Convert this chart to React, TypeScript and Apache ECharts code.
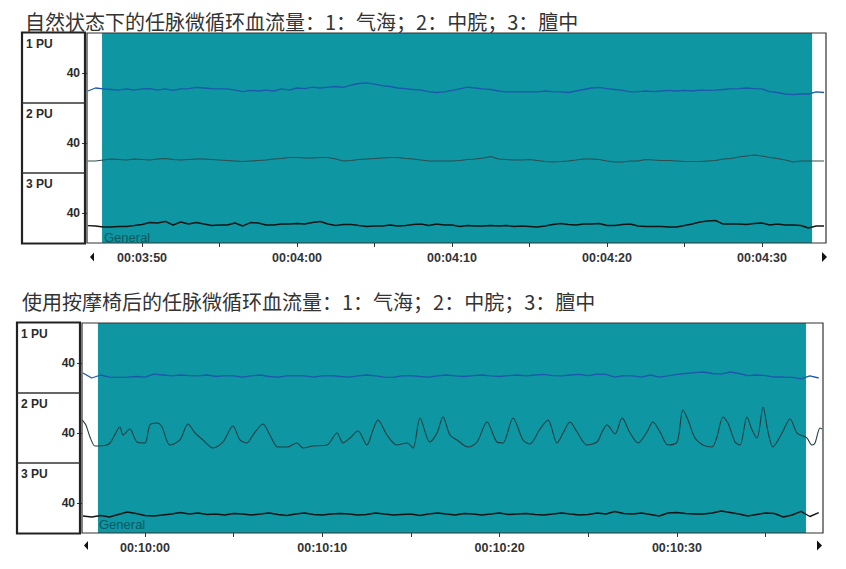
import React, { useEffect, useRef } from "react";
import * as echarts from "echarts";

// ---------- texts ----------
const TITLE_TOP = "自然状态下的任脉微循环血流量：1：气海；2：中脘；3：膻中";
const TITLE_BOTTOM = "使用按摩椅后的任脉微循环血流量：1：气海；2：中脘；3：膻中";
const CHANNEL_LABELS = ["1 PU", "2 PU", "3 PU"];
const SECTION_LABEL = "General";
const Y_TICKS = [40];
const Y_MIN = 0;
const Y_MAX = 93.33;

// ---------- top recording (natural state), time in seconds ----------
const TOP_RANGE = [226.45, 274.13];
const TOP_MARKED = [227.42, 273.23];
const TOP_MAJOR = [230, 240, 250, 260, 270];
const TOP_MINOR = [230, 235, 240, 245, 250, 255, 260, 265, 270];
const TOP_START = 226.5;
const TOP_STEP = 0.5;
const TOP_CH1 = [
  16.0, 20.0, 18.7, 18.0, 17.3, 18.7, 17.3, 18.7, 19.3, 17.3,
  18.7, 16.7, 18.7, 19.3, 20.7, 20.0, 19.3, 18.7, 18.7, 17.3,
  15.3, 16.7, 16.0, 17.3, 16.0, 18.7, 17.3, 20.0, 19.3, 21.3,
  20.0, 21.3, 22.0, 20.7, 24.0, 26.0, 26.7, 25.3, 23.3, 22.0,
  20.0, 19.3, 18.0, 17.3, 15.3, 14.0, 14.7, 16.7, 18.7, 21.3,
  20.0, 18.7, 18.0, 16.0, 14.7, 15.3, 14.7, 15.3, 14.7, 16.0,
  15.3, 14.7, 14.0, 16.0, 18.0, 20.0, 20.7, 19.3, 18.0, 16.7,
  14.7, 15.3, 16.0, 15.3, 16.0, 16.7, 16.0, 16.7, 16.0, 17.3,
  16.7, 17.3, 18.0, 18.7, 19.3, 20.0, 19.3, 18.7, 15.3, 14.0,
  12.0, 11.3, 12.0, 12.0, 14.7, 14.0,
];
const TOP_CH2 = [
  16.0, 16.0, 17.3, 18.7, 18.0, 17.3, 18.7, 18.0, 17.3, 18.7,
  19.3, 18.0, 17.3, 18.0, 18.7, 18.7, 18.0, 17.3, 16.7, 16.0,
  15.3, 16.0, 16.7, 17.3, 18.7, 19.3, 20.7, 20.7, 20.0, 20.0,
  20.7, 20.7, 18.7, 16.0, 16.7, 18.0, 18.7, 19.3, 20.0, 20.7,
  20.7, 19.3, 18.7, 17.3, 16.0, 16.0, 16.0, 16.0, 16.7, 18.0,
  18.7, 20.0, 22.0, 18.7, 18.0, 17.3, 17.3, 18.0, 16.7, 15.3,
  14.7, 15.3, 16.0, 17.3, 18.7, 18.7, 18.0, 16.0, 14.7, 14.7,
  16.0, 16.0, 18.0, 17.3, 16.7, 16.7, 16.0, 15.3, 15.3, 15.3,
  16.0, 16.7, 18.7, 19.3, 21.3, 22.7, 24.0, 22.7, 20.7, 19.3,
  17.3, 14.7, 16.0, 16.0, 16.0, 16.0,
];
const TOP_CH3 = [
  23.1, 22.7, 21.3, 21.3, 22.0, 22.0, 23.3, 24.7, 27.3, 26.7,
  28.7, 24.0, 28.0, 25.3, 27.3, 25.3, 23.3, 24.0, 24.0, 26.7,
  22.7, 27.3, 26.7, 24.0, 24.0, 25.3, 25.3, 26.0, 25.3, 27.3,
  28.7, 25.3, 23.3, 24.7, 24.7, 23.3, 22.0, 22.7, 22.7, 24.0,
  22.7, 23.3, 24.7, 25.3, 23.3, 25.3, 24.0, 24.0, 22.0, 23.3,
  22.7, 22.7, 23.3, 22.7, 23.3, 22.0, 22.7, 22.0, 21.3, 22.7,
  24.7, 26.0, 24.7, 24.0, 25.3, 25.3, 26.0, 23.3, 23.3, 24.7,
  25.3, 22.7, 22.0, 22.0, 22.0, 21.3, 21.3, 23.3, 25.3, 28.0,
  29.3, 30.0, 25.3, 25.3, 25.3, 24.7, 26.0, 26.7, 24.0, 25.3,
  24.0, 24.0, 23.3, 20.0, 22.7, 22.7,
];

// ---------- bottom recording (after massage chair) ----------
const BOT_RANGE = [596.45, 638.24];
const BOT_MARKED = [597.35, 637.28];
const BOT_MAJOR = [600, 610, 620, 630];
const BOT_MINOR = [600, 605, 610, 615, 620, 625, 630, 635];
const BOT_START = 596.5;
const BOT_STEP = 0.5;
const BOT_CH1 = [
  26.7, 20.0, 24.0, 21.3, 20.7, 21.3, 22.0, 21.3, 25.3, 24.0,
  22.7, 24.0, 23.3, 22.7, 24.0, 22.0, 23.3, 22.7, 21.3, 22.7,
  24.0, 22.0, 21.3, 22.7, 23.3, 22.7, 21.3, 22.7, 23.3, 22.0,
  21.3, 22.7, 24.0, 22.7, 21.3, 20.7, 22.7, 23.3, 22.0, 21.3,
  22.7, 24.0, 22.7, 22.0, 23.3, 24.0, 22.7, 22.0, 23.3, 24.0,
  22.7, 24.0, 24.7, 23.3, 22.7, 24.0, 24.7, 23.3, 25.3, 24.7,
  21.3, 23.3, 22.7, 21.3, 24.0, 21.3, 22.7, 24.7, 26.0, 27.3,
  28.0, 26.0, 25.3, 28.0, 26.0, 23.3, 24.0, 23.3, 21.3, 21.3,
  20.7, 18.7, 22.7, 20.0,
];
const BOT_CH2_T = [
  596.47, 596.67, 596.90, 597.18, 597.35, 597.74, 598.03, 598.20, 598.59, 598.76,
  599.15, 599.55, 600.00, 600.28, 600.68, 600.96, 601.41, 601.97, 602.43, 602.82,
  603.27, 603.84, 604.40, 604.96, 605.36, 605.75, 606.09, 606.66, 607.05, 607.50,
  608.01, 608.57, 608.91, 609.48, 610.27, 610.83, 611.17, 611.56, 612.01, 612.52,
  612.86, 613.14, 613.65, 614.21, 614.78, 615.12, 615.51, 616.07, 616.47, 616.81,
  617.20, 617.60, 618.22, 618.73, 619.29, 619.85, 620.19, 620.76, 621.32, 621.71,
  622.28, 622.73, 623.24, 623.58, 623.97, 624.37, 624.93, 625.49, 625.78, 626.06,
  626.51, 626.91, 627.36, 627.81, 628.31, 628.65, 629.05, 629.50, 630.01, 630.34,
  630.63, 631.02, 631.47, 631.98, 632.26, 632.60, 632.88, 633.28, 633.56, 633.95,
  634.24, 634.52, 634.86, 635.14, 635.42, 635.93, 636.38, 636.77, 637.11, 637.34,
  637.62, 637.79, 638.07, 638.18,
];
const BOT_CH2_V = [
  57.3, 50.7, 34.7, 22.7, 22.7, 23.3, 26.7, 33.3, 48.0, 37.3,
  45.3, 28.0, 26.7, 50.7, 53.3, 48.0, 24.0, 30.7, 52.0, 40.0,
  30.7, 20.0, 28.0, 49.3, 30.7, 26.7, 37.3, 52.0, 37.3, 21.3,
  21.3, 26.7, 20.0, 22.7, 24.0, 40.0, 26.7, 33.3, 42.7, 24.0,
  44.0, 57.3, 37.3, 24.0, 26.7, 20.0, 60.0, 28.0, 40.0, 61.3,
  37.3, 30.7, 21.3, 28.0, 54.7, 28.0, 26.7, 60.0, 30.7, 25.3,
  45.3, 57.3, 26.7, 40.0, 54.7, 41.3, 24.0, 28.0, 41.3, 50.7,
  38.7, 60.0, 40.0, 26.7, 41.3, 54.7, 41.3, 24.0, 28.0, 70.7,
  57.3, 33.3, 24.0, 21.3, 34.7, 61.3, 53.3, 28.0, 24.0, 61.3,
  44.0, 33.3, 74.7, 41.3, 21.3, 40.0, 58.7, 40.0, 36.0, 33.3,
  24.0, 26.7, 46.7, 45.3,
];
const BOT_CH3 = [
  22.7, 21.3, 23.3, 21.3, 24.7, 28.0, 26.0, 23.3, 22.7, 24.0,
  25.3, 27.3, 25.3, 26.7, 24.7, 25.3, 24.0, 26.0, 25.3, 24.0,
  25.3, 26.7, 24.7, 23.3, 25.3, 26.7, 24.7, 24.0, 25.3, 26.0,
  25.3, 24.0, 24.7, 26.7, 25.3, 24.0, 24.7, 25.3, 23.3, 25.3,
  26.7, 25.3, 24.0, 26.0, 25.3, 24.0, 25.3, 26.7, 24.7, 25.3,
  26.0, 24.7, 24.0, 25.3, 26.7, 25.3, 24.0, 24.7, 26.7, 25.3,
  28.7, 26.0, 25.3, 26.7, 24.7, 22.7, 26.7, 27.3, 26.0, 25.3,
  25.3, 26.7, 29.3, 27.3, 25.3, 22.7, 24.7, 26.7, 26.0, 21.3,
  24.0, 28.7, 22.0, 27.3,
];

// ---------- styling ----------
const TEAL = "#0e96a2";
const LATIN = "'Liberation Sans', Arial, sans-serif";
const CJK = "'Noto Sans CJK SC', sans-serif";

const sampled = (start: number, step: number, vals: number[]) =>
  vals.map((v, i) => [start + i * step, v]);
const paired = (ts: number[], vs: number[]) => ts.map((t, i) => [t, vs[i]]);

const fmtTime = (v: number) => {
  const s = Math.round(v);
  const h = Math.floor(s / 3600);
  const m = Math.floor((s % 3600) / 60);
  const ss = s % 60;
  return [h, m, ss].map((n) => String(n).padStart(2, "0")).join(":");
};

export default function App() {
  const ref = useRef<HTMLDivElement>(null);

  useEffect(() => {
    if (!ref.current) return;
    const chart = echarts.init(ref.current, undefined, { renderer: "svg" });

    const panels = [
      {
        title: TITLE_TOP, titleX: 25, titleY: 21,
        left: 87, right: 826, top: 33, rowH: 70, panelX: 22,
        range: TOP_RANGE, marked: TOP_MARKED, major: TOP_MAJOR, minor: TOP_MINOR,
        series: [
          { data: sampled(TOP_START, TOP_STEP, TOP_CH1), inC: "#1d58ac", outC: "#1c2a6e", w: 1.3, smooth: false },
          { data: sampled(TOP_START, TOP_STEP, TOP_CH2), inC: "#2f4b4e", outC: "#b03a2e", w: 1.1, smooth: false },
          { data: sampled(TOP_START, TOP_STEP, TOP_CH3), inC: "#151515", outC: "#151515", w: 1.4, smooth: false },
        ],
        arrowY: 257, arrowL: 90, arrowR: 822, generalX: 104, generalY: 237,
      },
      {
        title: TITLE_BOTTOM, titleX: 22, titleY: 301,
        left: 82, right: 823, top: 323, rowH: 70, panelX: 17,
        range: BOT_RANGE, marked: BOT_MARKED, major: BOT_MAJOR, minor: BOT_MINOR,
        series: [
          { data: sampled(BOT_START, BOT_STEP, BOT_CH1), inC: "#1d58ac", outC: "#1c2a6e", w: 1.3, smooth: false },
          { data: paired(BOT_CH2_T, BOT_CH2_V), inC: "#233f42", outC: "#a0341f", w: 1.1, smooth: 0.3 },
          { data: sampled(BOT_START, BOT_STEP, BOT_CH3), inC: "#151515", outC: "#151515", w: 1.4, smooth: false },
        ],
        arrowY: 545.5, arrowL: 84, arrowR: 817, generalX: 99, generalY: 524,
      },
    ];

    const grid: any[] = [];
    const xAxis: any[] = [];
    const yAxis: any[] = [];
    const series: any[] = [];
    const visualMap: any[] = [];
    const graphic: any[] = [];

    panels.forEach((p) => {
      p.series.forEach((s, r) => {
        const gi = grid.length;
        grid.push({
          left: p.left,
          width: p.right - p.left,
          top: p.top + r * p.rowH,
          height: p.rowH,
          containLabel: false,
        });
        const isBottom = r === 2;
        xAxis.push({
          type: "value",
          gridIndex: gi,
          min: p.range[0],
          max: p.range[1],
          show: isBottom,
          axisLine: { show: false },
          splitLine: { show: false },
          axisTick: {
            show: isBottom,
            customValues: p.minor,
            length: 4,
            lineStyle: { color: "#333", width: 1 },
          },
          axisLabel: {
            show: isBottom,
            customValues: p.major,
            formatter: fmtTime,
            fontFamily: LATIN,
            fontSize: 12.5,
            fontWeight: "bold",
            color: "#333",
            margin: 8,
          },
        });
        yAxis.push({
          type: "value",
          gridIndex: gi,
          min: Y_MIN,
          max: Y_MAX,
          axisLine: { show: false },
          splitLine: { show: false },
          axisTick: {
            show: true,
            customValues: Y_TICKS,
            length: 5,
            lineStyle: { color: "#333", width: 1 },
          },
          axisLabel: {
            customValues: Y_TICKS,
            fontFamily: LATIN,
            fontSize: 12,
            fontWeight: "bold",
            color: "#2a2a2a",
            margin: 7,
          },
        });
        const si = series.length;
        series.push({
          type: "line",
          xAxisIndex: gi,
          yAxisIndex: gi,
          data: s.data,
          showSymbol: false,
          smooth: s.smooth,
          silent: true,
          z: 3,
          lineStyle: { width: s.w, color: s.inC },
          markArea: {
            silent: true,
            label: { show: false },
            itemStyle: { color: TEAL, opacity: 1, borderWidth: 0 },
            data: [[{ xAxis: p.marked[0] }, { xAxis: p.marked[1] }]],
          },
        });
        if (s.inC !== s.outC) {
          visualMap.push({
            type: "piecewise",
            show: false,
            dimension: 0,
            seriesIndex: si,
            pieces: [
              { lt: p.marked[0], color: s.outC },
              { gte: p.marked[0], lte: p.marked[1], color: s.inC },
              { gt: p.marked[1], color: s.outC },
            ],
          });
        }
      });

      const bottom = p.top + 3 * p.rowH;
      // title
      graphic.push({
        type: "text",
        x: p.titleX,
        y: p.titleY,
        style: {
          text: p.title,
          fontFamily: CJK,
          fontSize: 20,
          fill: "#333",
          verticalAlign: "middle",
        },
      });
      // channel panel
      graphic.push({
        type: "rect",
        shape: { x: p.panelX, y: p.top - 0.5, width: p.left - p.panelX - 2, height: bottom - p.top + 1 },
        style: { fill: "none", stroke: "#222", lineWidth: 2.2 },
        z: 20,
      });
      [1, 2].forEach((r) => {
        const y = p.top + r * p.rowH;
        graphic.push({
          type: "line",
          shape: { x1: p.panelX, y1: y, x2: p.left - 2, y2: y },
          style: { stroke: "#333", lineWidth: 1.4 },
          z: 20,
        });
      });
      CHANNEL_LABELS.forEach((lab, r) => {
        graphic.push({
          type: "text",
          x: p.panelX + 4,
          y: p.top + r * p.rowH + 4.5,
          style: { text: lab, fontFamily: LATIN, fontSize: 12, fontWeight: "bold", fill: "#2a2a2a", verticalAlign: "top" },
          z: 20,
        });
      });
      // plot frame
      graphic.push({
        type: "rect",
        shape: { x: p.left, y: p.top, width: p.right - p.left, height: bottom - p.top },
        style: { fill: "none", stroke: "#333", lineWidth: 1.2 },
        z: 20,
      });
      // section label
      graphic.push({
        type: "text",
        x: p.generalX,
        y: p.generalY,
        style: { text: SECTION_LABEL, fontFamily: LATIN, fontSize: 13, fill: "#0b5960", verticalAlign: "middle" },
        z: 20,
      });
      // scroll arrows
      graphic.push({
        type: "polygon",
        shape: { points: [[p.arrowL, p.arrowY], [p.arrowL + 4, p.arrowY - 4.5], [p.arrowL + 4, p.arrowY + 4.5]] },
        style: { fill: "#111" },
        z: 20,
      });
      graphic.push({
        type: "polygon",
        shape: { points: [[p.arrowR + 5, p.arrowY], [p.arrowR, p.arrowY - 5], [p.arrowR, p.arrowY + 5]] },
        style: { fill: "#111" },
        z: 20,
      });
    });

    chart.setOption({
      animation: false,
      backgroundColor: "#ffffff",
      grid,
      xAxis,
      yAxis,
      series,
      visualMap,
      graphic,
    });

    return () => chart.dispose();
  }, []);

  return (
    <div
      ref={ref}
      style={{ position: "absolute", left: 0, top: 0, width: 846, height: 569 }}
    />
  );
}
